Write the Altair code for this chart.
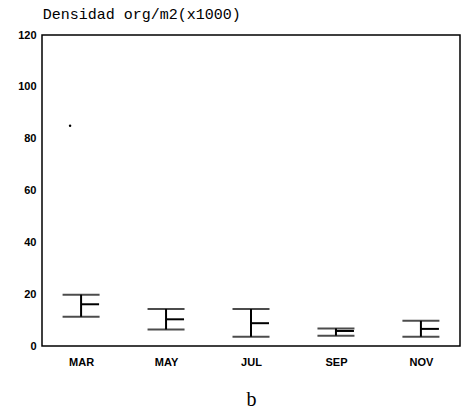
import altair as alt
import pandas as pd

months = ["MAR", "MAY", "JUL", "SEP", "NOV"]
upper = [19.8, 14.3, 14.3, 6.8, 9.7]
lower = [11.3, 6.4, 3.6, 4.0, 3.6]
mean = [16.1, 10.3, 8.8, 5.8, 6.6]

outlier_month = ["MAR"]
outlier_value = [85.0]

df = pd.DataFrame({"mes": months, "hi": upper, "lo": lower, "mean": mean})
dfo = pd.DataFrame({"mes": outlier_month, "v": outlier_value})

xenc = alt.X(
    "mes:N",
    sort=months,
    scale=alt.Scale(type="point", padding=0.46),
    axis=alt.Axis(
        title="b",
        titleFont="Liberation Serif",
        titleFontSize=20,
        titleFontWeight="normal",
        titleColor="black",
        titlePadding=22,
        labelFont="Liberation Sans",
        labelFontWeight="bold",
        labelFontSize=11,
        labelColor="black",
        labelPadding=10,
        labelAngle=0,
        ticks=False,
        domain=False,
    ),
)

yscale = alt.Scale(domain=[0, 120], nice=False)
yaxis = alt.Axis(
    title=None,
    values=[0, 20, 40, 60, 80, 100, 120],
    labelFont="Liberation Sans",
    labelFontWeight="bold",
    labelFontSize=11,
    labelColor="black",
    labelPadding=6,
    ticks=False,
    domain=False,
    grid=False,
)

vert = alt.Chart(df).mark_rule(color="black", strokeWidth=2).encode(
    x=xenc,
    y=alt.Y("lo:Q", scale=yscale, axis=yaxis),
    y2="hi:Q",
)
cap_hi = alt.Chart(df).mark_tick(color="black", size=37, thickness=2).encode(
    x=alt.X("mes:N", sort=months), y="hi:Q"
)
cap_lo = alt.Chart(df).mark_tick(color="black", size=37, thickness=2).encode(
    x=alt.X("mes:N", sort=months), y="lo:Q"
)
mean_tick = alt.Chart(df).mark_rule(color="black", strokeWidth=2, x2Offset=18).encode(
    x=alt.X("mes:N", sort=months), x2=alt.X2("mes:N"), y="mean:Q"
)
pt = alt.Chart(dfo).mark_point(color="black", filled=True, size=6, xOffset=-11, opacity=1).encode(
    x=alt.X("mes:N", sort=months), y="v:Q"
)

chart = (
    alt.layer(vert, cap_hi, cap_lo, mean_tick, pt)
    .properties(
        width=418,
        height=311,
        autosize=alt.AutoSizeParams(type="none"),
        padding={"left": 42, "top": 35, "right": 6, "bottom": 70},
        title=alt.Title(
            "Densidad org/m2(x1000)",
            anchor="start",
            font="Liberation Mono",
            fontSize=15,
            fontWeight="normal",
            color="black",
            baseline="alphabetic",
            offset=15,
            dx=25,
            dy=20,
        ),
    )
    .configure(background="white", view=alt.ViewConfig(stroke="black", strokeWidth=1.5))
)

chart.save("out.html", embed_options={"renderer": "svg", "actions": False})
